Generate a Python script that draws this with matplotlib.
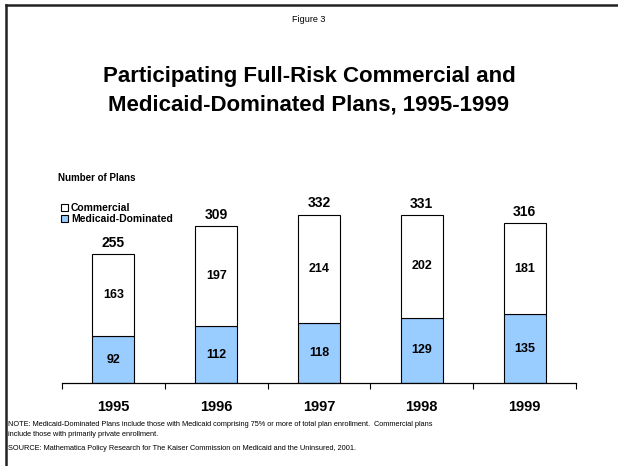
import matplotlib.pyplot as plt
from matplotlib.lines import Line2D

years = ["1995", "1996", "1997", "1998", "1999"]
medicaid = [92, 112, 118, 129, 135]
commercial = [163, 197, 214, 202, 181]
totals = [255, 309, 332, 331, 316]

plt.rcParams["font.family"] = ["Liberation Sans", "DejaVu Sans"]

W, H = 618, 466
fig = plt.figure(figsize=(W / 100, H / 100), dpi=100)

# frame lines (top and left only)
fig.add_artist(Line2D([6 / W, 1], [1 - 5 / H, 1 - 5 / H], color="#222222", lw=1.8))
fig.add_artist(Line2D([6 / W, 6 / W], [1 - 5 / H, 0], color="#222222", lw=1.8))

fig.text(309 / W, 1 - 20 / H, "Figure 3", ha="center", va="center", fontsize=6.5)
fig.text(309 / W, 1 - 91 / H, "Participating Full-Risk Commercial and\nMedicaid-Dominated Plans, 1995-1999",
         ha="center", va="center", fontsize=16, fontweight="bold", linespacing=1.45)
fig.text(58 / W, 1 - 178 / H, "Number of Plans", ha="left", va="center", fontsize=7, fontweight="bold")

ax = fig.add_axes([62 / W, 83 / H, 514 / W, 203 / H])
x = list(range(len(years)))
b1 = ax.bar(x, medicaid, width=0.41, color="#99CCFF", edgecolor="black", linewidth=0.8)
b2 = ax.bar(x, commercial, width=0.41, bottom=medicaid, color="white", edgecolor="black", linewidth=0.8)

for i in x:
    ax.text(i, medicaid[i] / 2, str(medicaid[i]), ha="center", va="center", fontsize=9, fontweight="bold")
    ax.text(i, medicaid[i] + commercial[i] / 2, str(commercial[i]), ha="center", va="center",
            fontsize=9, fontweight="bold")
    ax.text(i, totals[i] + 8, str(totals[i]), ha="center", va="bottom", fontsize=10, fontweight="bold")

ax.set_xlim(-0.5, 4.5)
ax.set_ylim(0, 400)
for s in ["top", "right", "left"]:
    ax.spines[s].set_visible(False)
ax.spines["bottom"].set_linewidth(0.9)
ax.set_yticks([])
ax.set_xticks([i - 0.5 for i in range(6)])
ax.set_xticklabels([])
ax.tick_params(axis="x", length=4, width=0.8, direction="out")
for i, y in enumerate(years):
    ax.text(i, -47, y, ha="center", va="center", fontsize=10.5, fontweight="bold")

leg = fig.legend([b2, b1], ["Commercial", "Medicaid-Dominated"], loc="upper left",
                 bbox_to_anchor=(61 / W, 1 - 203 / H), frameon=False,
                 prop={"weight": "bold", "size": 7.5}, handlelength=0.65, handleheight=0.65,
                 handletextpad=0.3, labelspacing=0.1, borderaxespad=0, borderpad=0)

fig.text(8 / W, 1 - 430 / H,
         "NOTE: Medicaid-Dominated Plans include those with Medicaid comprising 75% or more of total plan enrollment.  Commercial plans\ninclude those with primarily private enrollment.",
         ha="left", va="center", fontsize=5.3, linespacing=1.6)
fig.text(8 / W, 1 - 448 / H,
         "SOURCE: Mathematica Policy Research for The Kaiser Commission on Medicaid and the Uninsured, 2001.",
         ha="left", va="center", fontsize=5.3)

fig.savefig("out.png", dpi=100)
